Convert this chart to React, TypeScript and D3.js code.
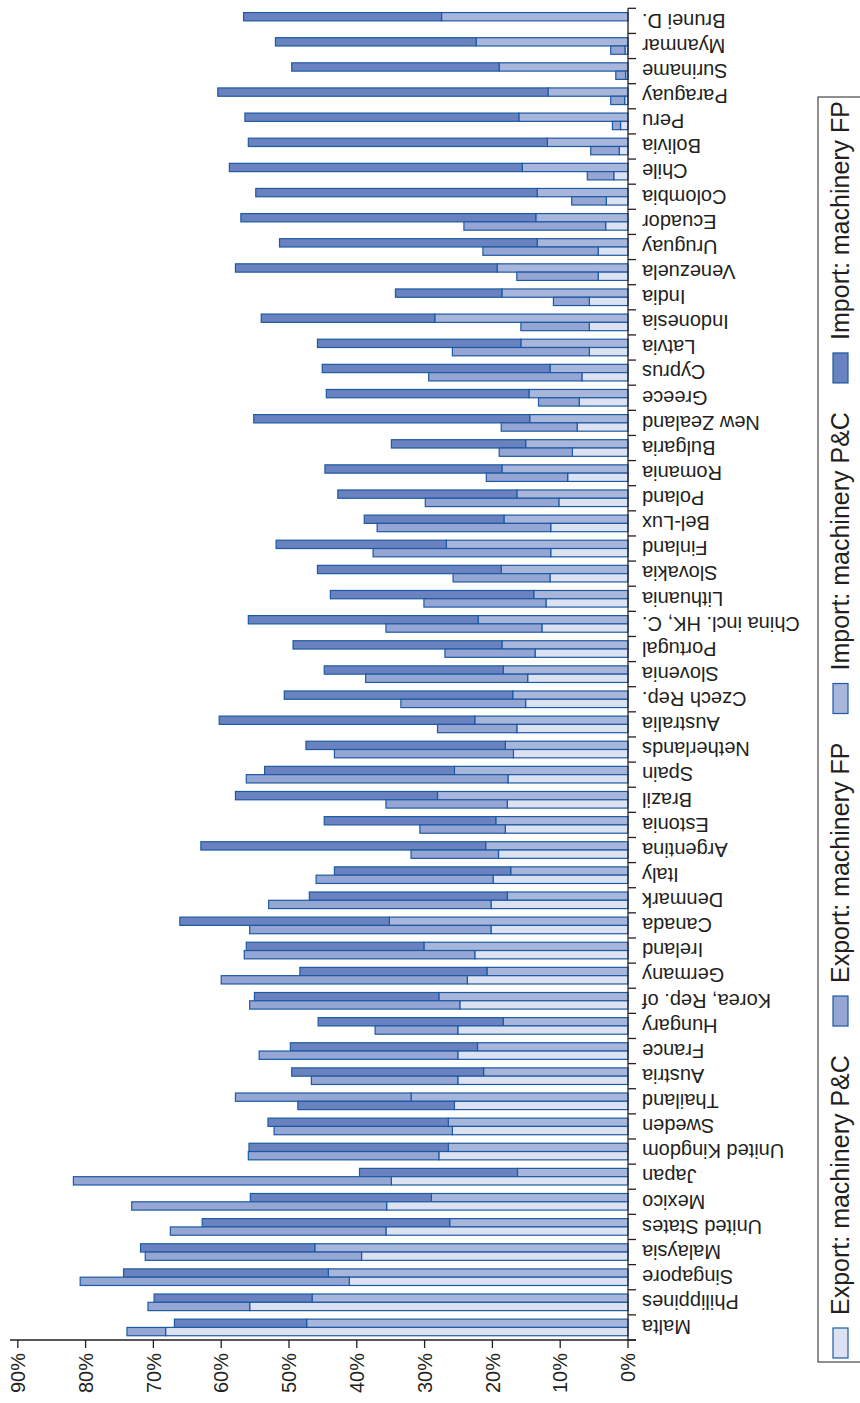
import React from 'react';
import * as d3 from 'd3';

// Categories, bottom (Malta) to top (Brunei D.)
const countries = [
  'Malta', 'Philippines', 'Singapore', 'Malaysia', 'United States', 'Mexico', 'Japan',
  'United Kingdom', 'Sweden', 'Thailand', 'Austria', 'France', 'Hungary', 'Korea, Rep. of',
  'Germany', 'Ireland', 'Canada', 'Denmark', 'Italy', 'Argentina', 'Estonia', 'Brazil',
  'Spain', 'Netherlands', 'Australia', 'Czech Rep.', 'Slovenia', 'Portugal',
  'China incl. HK, C.', 'Lithuania', 'Slovakia', 'Finland', 'Bel-Lux', 'Poland', 'Romania',
  'Bulgaria', 'New Zealand', 'Greece', 'Cyprus', 'Latvia', 'Indonesia', 'India',
  'Venezuela', 'Uruguay', 'Ecuador', 'Colombia', 'Chile', 'Bolivia', 'Peru', 'Paraguay',
  'Suriname', 'Myanmar', 'Brunei D.',
];

// Segment values (% share)
const exportPC = [
  68.2, 55.8, 41.1, 39.3, 35.7, 35.6, 34.9, 27.9, 25.9, 25.6, 25.1, 25.1, 25.1, 24.8,
  23.7, 22.6, 20.2, 20.2, 19.9, 19.1, 18.1, 17.8, 17.7, 16.9, 16.4, 15.1, 14.8, 13.7,
  12.7, 12.1, 11.5, 11.4, 11.4, 10.2, 8.9, 8.2, 7.5, 7.2, 6.8, 5.7, 5.7, 5.7,
  4.4, 4.4, 3.3, 3.2, 2.1, 1.3, 1.1, 0.5, 0.35, 0.45, 0,
];
const exportFP = [
  5.7, 15.0, 39.7, 31.9, 31.8, 37.6, 46.9, 28.1, 26.3, 25.9, 21.6, 29.3, 12.2, 31.0,
  36.3, 34.0, 35.6, 32.8, 26.1, 12.9, 12.6, 17.9, 38.6, 26.4, 11.7, 18.4, 23.9, 13.3,
  23.0, 18.0, 14.3, 26.2, 25.6, 19.7, 12.0, 10.8, 11.2, 6.0, 22.6, 20.2, 10.1, 5.3,
  12.0, 17.0, 20.9, 5.1, 3.9, 4.2, 1.2, 2.05, 1.45, 2.1, 0,
];
const importPC = [
  47.4, 46.6, 44.2, 46.2, 26.3, 29.0, 16.3, 26.5, 26.5, 32.0, 21.3, 22.2, 18.4, 27.9,
  20.8, 30.1, 35.2, 17.8, 17.3, 21.0, 19.5, 28.1, 25.6, 18.1, 22.6, 17.0, 18.4, 18.6,
  22.1, 13.9, 18.7, 26.8, 18.3, 16.4, 18.6, 15.1, 14.5, 14.6, 11.5, 15.8, 28.5, 18.6,
  19.3, 13.4, 13.6, 13.4, 15.6, 11.9, 16.1, 11.8, 19.0, 22.4, 27.5,
];
const importFP = [
  19.5, 23.3, 30.2, 25.7, 36.5, 26.7, 23.3, 29.4, 26.6, 23.1, 28.3, 27.6, 27.3, 27.2,
  27.6, 26.2, 30.9, 29.2, 26.0, 42.0, 25.3, 29.8, 28.0, 29.4, 37.7, 33.7, 26.4, 30.8,
  33.9, 30.0, 27.1, 25.1, 20.6, 26.4, 26.1, 19.8, 40.7, 29.9, 33.6, 30.0, 25.6, 15.7,
  38.6, 38.0, 43.5, 41.5, 43.2, 44.1, 40.4, 48.7, 30.6, 29.6, 29.2,
];
// Countries whose FP segments are drawn on the other bar (as in the source chart)
const swappedFP = ['Thailand'];

const valueTicks = [0, 10, 20, 30, 40, 50, 60, 70, 80, 90];
const seriesNames = [
  'Export: machinery P&C',
  'Export: machinery FP',
  'Import: machinery P&C',
  'Import: machinery FP',
];
const seriesColors = ['#dde2f3', '#95a6d4', '#a9b6dc', '#6a83c0'];

const W = 860;
const H = 1403;
const STROKE = '#1c5aa3';
const INK = '#231f20';
const FONT = '"Liberation Sans", Arial, Helvetica, sans-serif';

function measure(text: string, size: number): number {
  if (typeof document === 'undefined') return text.length * size * 0.5;
  const c = document.createElement('canvas').getContext('2d');
  if (!c) return text.length * size * 0.5;
  c.font = `${size}px "Liberation Sans", Arial, sans-serif`;
  return c.measureText(text).width;
}

export default function App() {
  const x = d3.scaleLinear().domain([0, 90]).range([628, 17.8]);
  const y = d3
    .scaleBand<string>()
    .domain([...countries].reverse())
    .range([8.3, 1340])
    .padding(0);
  const bw = y.bandwidth();
  const barH = 8.3;
  const axisY = 1340;
  const axisX = 628;

  const segs: { key: string; x0: number; x1: number; y: number; fill: string }[] = [];
  countries.forEach((c, i) => {
    const cy = (y(c) as number) + bw / 2;
    const sw = swappedFP.includes(c);
    const upSecondVal = sw ? exportFP[i] : importFP[i];
    const upSecondCol = sw ? seriesColors[1] : seriesColors[3];
    const loSecondVal = sw ? importFP[i] : exportFP[i];
    const loSecondCol = sw ? seriesColors[3] : seriesColors[1];
    if (importPC[i] > 0)
      segs.push({ key: c + 'ipc', x0: 0, x1: importPC[i], y: cy - barH, fill: seriesColors[2] });
    if (upSecondVal > 0)
      segs.push({ key: c + 'ifp', x0: importPC[i], x1: importPC[i] + upSecondVal, y: cy - barH, fill: upSecondCol });
    if (exportPC[i] > 0)
      segs.push({ key: c + 'epc', x0: 0, x1: exportPC[i], y: cy, fill: seriesColors[0] });
    if (loSecondVal > 0)
      segs.push({ key: c + 'efp', x0: exportPC[i], x1: exportPC[i] + loSecondVal, y: cy, fill: loSecondCol });
  });

  const boundaries = d3.range(countries.length + 1).map((k) => 8.3 + k * bw);

  // legend layout (reads bottom to top), items spread over the box
  const legendFont = 25;
  const swH = 30;
  const swW = 15;
  const innerGap = 13;
  const legBottom = 1358;
  const legTop = 101;
  const lens = seriesNames.map((n) => measure(n, legendFont));
  const sumLen = lens.reduce((a, b) => a + b, 0);
  const itemGap = (legBottom - legTop - sumLen - 4 * (swH + innerGap)) / 3;
  let cur = legBottom;
  const legendItems = seriesNames.map((name, k) => {
    const swY = cur - swH;
    const textStart = swY - innerGap;
    cur = textStart - lens[k] - itemGap;
    return { name, color: seriesColors[k], swY, textStart };
  });

  return (
    <svg
      width={W}
      height={H}
      style={{ position: 'absolute', left: 0, top: 0, display: 'block', background: '#fff' }}
      fontFamily={FONT}
    >
      {segs.map((s) => (
        <rect
          key={s.key}
          x={x(s.x1)}
          y={s.y}
          width={x(s.x0) - x(s.x1)}
          height={barH}
          fill={s.fill}
          stroke={STROKE}
          strokeWidth={1.2}
        />
      ))}

      {/* category axis */}
      <line x1={axisX} x2={axisX} y1={8.3} y2={axisY} stroke={INK} strokeWidth={1.3} />
      {boundaries.map((b, k) => (
        <line key={'cb' + k} x1={axisX} x2={axisX + 8} y1={b} y2={b} stroke={INK} strokeWidth={1.3} />
      ))}
      {countries.map((c) => {
        const cy = (y(c) as number) + bw / 2;
        return (
          <text
            key={'lab' + c}
            transform={`translate(642,${cy}) rotate(180)`}
            textAnchor="end"
            dy="0.36em"
            fontSize={20}
            fill={INK}
          >
            {c}
          </text>
        );
      })}

      {/* value axis */}
      <line x1={10} x2={axisX + 8} y1={axisY} y2={axisY} stroke={INK} strokeWidth={1.3} />
      {valueTicks.map((t) => (
        <g key={'vt' + t}>
          <line x1={x(t)} x2={x(t)} y1={axisY} y2={axisY + 8} stroke={INK} strokeWidth={1.3} />
          <text
            transform={`translate(${x(t)},${axisY + 13}) rotate(-90)`}
            textAnchor="end"
            dy="0.36em"
            fontSize={20}
            fill={INK}
          >
            {t + '%'}
          </text>
        </g>
      ))}

      {/* legend */}
      <rect x={818} y={97} width={60} height={1265} fill="none" stroke={INK} strokeWidth={1} />
      {legendItems.map((it) => (
        <g key={it.name}>
          <rect x={833} y={it.swY} width={swW} height={swH} fill={it.color} stroke={STROKE} strokeWidth={1.2} />
          <text
            transform={`translate(840,${it.textStart}) rotate(-90)`}
            textAnchor="start"
            dy="0.36em"
            fontSize={legendFont}
            fill={INK}
          >
            {it.name}
          </text>
        </g>
      ))}
    </svg>
  );
}
